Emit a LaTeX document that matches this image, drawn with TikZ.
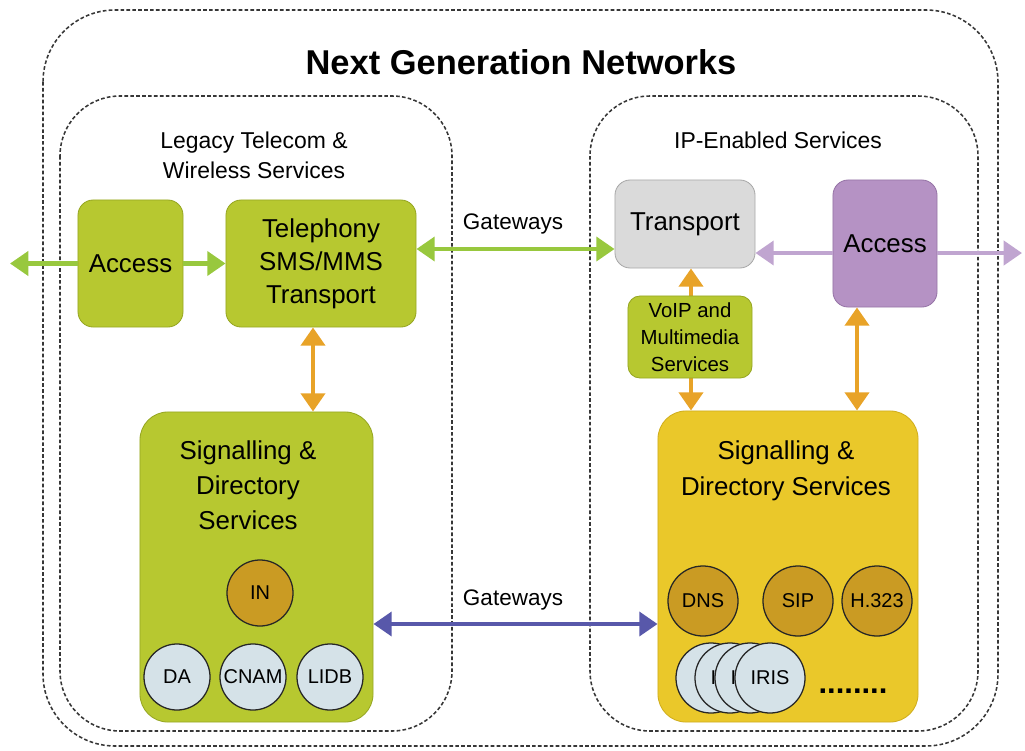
\documentclass[tikz,border=0pt]{standalone}
\usepackage{fontspec}
\setmainfont{Liberation Sans}
\usetikzlibrary{arrows.meta,calc}

\definecolor{leaf}{RGB}{183,200,48}
\definecolor{leafedge}{RGB}{150,166,34}
\definecolor{sun}{RGB}{234,200,42}
\definecolor{sunedge}{RGB}{208,174,30}
\definecolor{gold}{RGB}{202,155,35}
\definecolor{ice}{RGB}{213,226,232}
\definecolor{stone}{RGB}{218,218,218}
\definecolor{stoneedge}{RGB}{168,168,168}
\definecolor{lilac}{RGB}{181,146,196}
\definecolor{lilacedge}{RGB}{150,116,166}
\definecolor{linkgreen}{RGB}{152,200,62}
\definecolor{linkorange}{RGB}{232,163,40}
\definecolor{linklilac}{RGB}{192,165,208}
\definecolor{linkblue}{RGB}{88,88,170}
\definecolor{frame}{RGB}{55,55,55}

\newcommand{\fsz}[2]{\fontsize{#1}{#2}\selectfont}

\begin{document}
\begin{tikzpicture}[x=0.025cm,y=-0.025cm,
  >={Triangle[length=13pt,width=17pt]},
  region/.style={draw=frame, line width=1.1pt, dash pattern=on 2.6pt off 1.6pt, rounded corners=#1},
  block/.style={rounded corners=0.38cm, inner sep=0pt, align=center, line width=0.6pt},
  greenblock/.style={block, fill=leaf, draw=leafedge},
  orb/.style={circle, draw=black!85, line width=0.9pt, inner sep=0pt, font=\fsz{14.2}{16}},
  greenlink/.style={draw=linkgreen, line width=3pt},
  lilaclink/.style={draw=linklilac, line width=3pt},
  orangelink/.style={draw=linkorange, line width=3.2pt},
  bluelink/.style={draw=linkblue, line width=3pt},
  caption/.style={font=\fsz{16}{18}}
]
\useasboundingbox (0,0) rectangle (1025,750);

% dashed frames
\draw[region=1.8cm] (43,10) rectangle (998,746);
\draw[region=1.5cm] (60,96) rectangle (452,731);
\draw[region=1.5cm] (590,96) rectangle (978,731);

% headings
\node[font=\bfseries\fsz{24.5}{28}] (title) at (521,62) {Next Generation Networks};
\node[font=\fsz{16.3}{21.3}, align=center] (legacy) at (254,155) {Legacy Telecom \&\\Wireless Services};
\node[font=\fsz{16.3}{20}] (ipes) at (778,140) {IP-Enabled Services};

% service blocks
\node[greenblock, minimum width=2.625cm, minimum height=3.175cm, font=\fsz{18.4}{22}] (accL) at (130.5,263.5) {Access};
\node[greenblock, minimum width=4.75cm, minimum height=3.175cm, font=\fsz{18.4}{23.4}] (tel) at (321,263.5) {Telephony\\SMS/MMS\\Transport};
\node[block, fill=stone, draw=stoneedge, minimum width=3.5cm, minimum height=2.2cm, font=\fsz{18.4}{22}] (trans) at (685,224) {Transport};
\node[block, fill=lilac, draw=lilacedge, minimum width=2.6cm, minimum height=3.175cm, font=\fsz{18.4}{22}] (accR) at (885,243.5) {Access};

\node[greenblock, rounded corners=0.7cm, minimum width=5.825cm, minimum height=7.75cm] (sigL) at (256.5,567) {};
\node[block, rounded corners=0.7cm, fill=sun, draw=sunedge, minimum width=6.5cm, minimum height=7.775cm] (sigR) at (788,566.5) {};
\node[font=\fsz{18.4}{24.8}, align=center] (sigLt) at (248,485) {Signalling \&\\Directory\\Services};
\node[font=\fsz{18.4}{25.5}, align=center] (sigRt) at (786,471) {Signalling \&\\Directory Services};

% legacy directory elements
\node[orb, fill=gold, minimum size=1.65cm] (in) at (260,593) {IN};
\node[orb, fill=ice, minimum size=1.65cm] (da) at (177,677) {DA};
\node[orb, fill=ice, minimum size=1.65cm] (cnam) at (253,677) {CNAM};
\node[orb, fill=ice, minimum size=1.65cm] (lidb) at (330,677) {LIDB};

% IP directory elements
\node[orb, fill=gold, minimum size=1.75cm] (dns) at (703,601) {DNS};
\node[orb, fill=gold, minimum size=1.75cm] (sip) at (798,601) {SIP};
\node[orb, fill=gold, minimum size=1.75cm] (h323) at (877,601) {H.323};
% a stack of IRIS servers, each card partly hidden by the next
\node[orb, fill=ice, minimum size=1.75cm] (iris1) at (711,678) {};
\node[orb, fill=ice, minimum size=1.75cm] (iris2) at (730,678) {IRIS};
\node[orb, fill=ice, minimum size=1.75cm] (iris3) at (750,678) {IRIS};
\node[orb, fill=ice, minimum size=1.75cm] (iris4) at (770,678) {IRIS};
\node[font=\bfseries\fsz{22}{22}, anchor=base] (more) at (853,693) {........};

% green links
\coordinate (farL) at (10,263.5);
\draw[greenlink, ->] (accL.west) -- (farL);
\draw[greenlink, ->] (accL.east) -- (tel.west);
\coordinate (gwTop) at (513,249);
\draw[greenlink, <->] (tel.east |- gwTop) -- (trans.west |- gwTop);
\node[caption] (gwTopT) at (513,224) {Gateways};

% lilac links
\coordinate (lilacY) at (0,253);
\coordinate (farR) at (1022,253);
\draw[lilaclink, ->] (accR.west |- lilacY) -- (trans.east |- lilacY);
\draw[lilaclink, ->] (accR.east |- lilacY) -- (farR);

% orange links
\coordinate (oxL) at (313,0);
\coordinate (oxM) at (691,0);
\coordinate (oxR) at (857,0);
\draw[orangelink, <->] (tel.south -| oxL) -- (sigL.north -| oxL);
\draw[orangelink, <->] (trans.south -| oxM) -- (sigR.north -| oxM);
\draw[orangelink, <->] (accR.south -| oxR) -- (sigR.north -| oxR);
\node[greenblock, rounded corners=0.3cm, minimum width=3.1cm, minimum height=2.05cm, font=\fsz{14.5}{19}] (voip) at (690,337) {VoIP and\\Multimedia\\Services};

% blue link
\coordinate (gwLow) at (513,624);
\draw[bluelink, <->] (sigL.east |- gwLow) -- (sigR.west |- gwLow);
\node[caption] (gwLowT) at (513,600) {Gateways};
\end{tikzpicture}
\end{document}
